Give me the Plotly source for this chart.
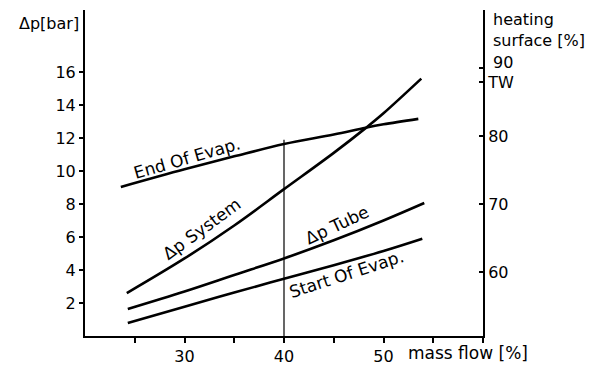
import plotly.graph_objects as go

# ---- data ----
mass_flow_sys = [24.2, 30, 35, 40, 45, 48.2, 50, 53.8]
dp_system = [2.6, 4.7, 6.7, 8.9, 11.1, 12.6, 13.5, 15.6]

mass_flow_tube = [24.3, 30, 35, 40, 45, 50, 54.1]
dp_tube = [1.64, 2.7, 3.7, 4.7, 5.8, 7.0, 8.06]

mass_flow_end = [23.6, 30, 35, 40, 45, 48.2, 50, 53.5]
end_of_evap = [72.5, 75.1, 77.0, 78.8, 80.2, 81.2, 81.7, 82.5]

mass_flow_start = [24.3, 30, 35, 40, 45, 50, 53.9]
start_of_evap = [52.5, 54.9, 57.0, 59.0, 61.0, 63.1, 64.9]

x_ticks = [25, 30, 35, 40, 45, 50, 55, 60]
x_tick_text = ["", "30", "", "40", "", "50", "", ""]
y_ticks = [2, 4, 6, 8, 10, 12, 14, 16]
y2_ticks = [60, 70, 80, 87.9, 90]
y2_tick_text = ["60", "70", "80", "TW", ""]
y2_top_label = 90
ref_mass_flow = 40
ref_line_top = 11.9

FONT = "DejaVu Sans, Liberation Sans, sans-serif"
LW = 2.6

fig = go.Figure()
line = dict(color="black", width=LW)
fig.add_trace(go.Scatter(x=mass_flow_sys, y=dp_system, mode="lines", line=dict(line, shape="spline"), showlegend=False))
fig.add_trace(go.Scatter(x=mass_flow_tube, y=dp_tube, mode="lines", line=dict(line, shape="spline"), showlegend=False))
fig.add_trace(go.Scatter(x=mass_flow_end, y=end_of_evap, mode="lines", line=dict(line, shape="spline"), yaxis="y2", showlegend=False))
fig.add_trace(go.Scatter(x=mass_flow_start, y=start_of_evap, mode="lines", line=dict(line, shape="spline"), yaxis="y2", showlegend=False))

fig.add_shape(type="line", x0=ref_mass_flow, x1=ref_mass_flow, y0=0, y1=ref_line_top,
              xref="x", yref="y", line=dict(color="black", width=1.2))

# page body has an 8px margin, so the figure is sized to fit the window
fig.update_layout(
    width=593, height=358,
    margin=dict(l=77, r=118, t=2, b=30, autoexpand=False),
    paper_bgcolor="white", plot_bgcolor="white",
    font=dict(family=FONT, size=16, color="black"),
    xaxis=dict(range=[20, 60], tickvals=x_ticks, ticktext=x_tick_text, automargin=False,
               showline=True, linewidth=2, linecolor="black", ticks="outside",
               ticklen=5, tickwidth=2, tickcolor="black", showgrid=False, zeroline=False,
               tickfont=dict(size=16)),
    yaxis=dict(range=[0, 19.76], tickvals=y_ticks, showline=True, linewidth=2, automargin=False,
               linecolor="black", ticks="outside", ticklen=4, tickwidth=1.5, tickcolor="black",
               showgrid=False, zeroline=False, tickfont=dict(size=16)),
    yaxis2=dict(range=[50.6, 98.5], overlaying="y", side="right", tickvals=y2_ticks,
                ticktext=y2_tick_text, showline=True, linewidth=2, linecolor="black", automargin=False,
                ticks="inside", ticklen=4, tickwidth=1.5, tickcolor="black",
                showgrid=False, zeroline=False, tickfont=dict(size=16)),
)

ann = [
    dict(text="Δp[bar]", x=0.0, y=1.0, xref="paper", yref="paper", xanchor="right", yanchor="top",
         xshift=-4, yshift=-2, font=dict(size=16)),
    dict(text="heating<br>surface [%]", x=1.0, y=1.0, xref="paper", yref="paper", xanchor="left",
         yanchor="top", xshift=8, yshift=2, align="left", font=dict(size=16)),
    dict(text=str(y2_top_label), x=1.0, y=y2_top_label, xref="paper", yref="y2", xanchor="left",
         yanchor="middle", xshift=8, yshift=5, font=dict(size=16)),
    dict(text="mass flow [%]", x=52.3, y=0, xref="x", yref="paper", xanchor="left", yanchor="top",
         yshift=-5, font=dict(size=17)),
    dict(text="End Of Evap.", x=30.3, y=10.8, xref="x", yref="y", textangle=-16, font=dict(size=17)),
    dict(text="Δp System", x=31.7, y=6.5, xref="x", yref="y", textangle=-36, font=dict(size=17)),
    dict(text="Δp Tube", x=45.3, y=6.75, xref="x", yref="y", textangle=-25, font=dict(size=17)),
    dict(text="Start Of Evap.", x=46.3, y=3.75, xref="x", yref="y", textangle=-18, font=dict(size=17)),
]
for a in ann:
    a["showarrow"] = False
fig.update_layout(annotations=ann)

fig.write_html("out.html")
